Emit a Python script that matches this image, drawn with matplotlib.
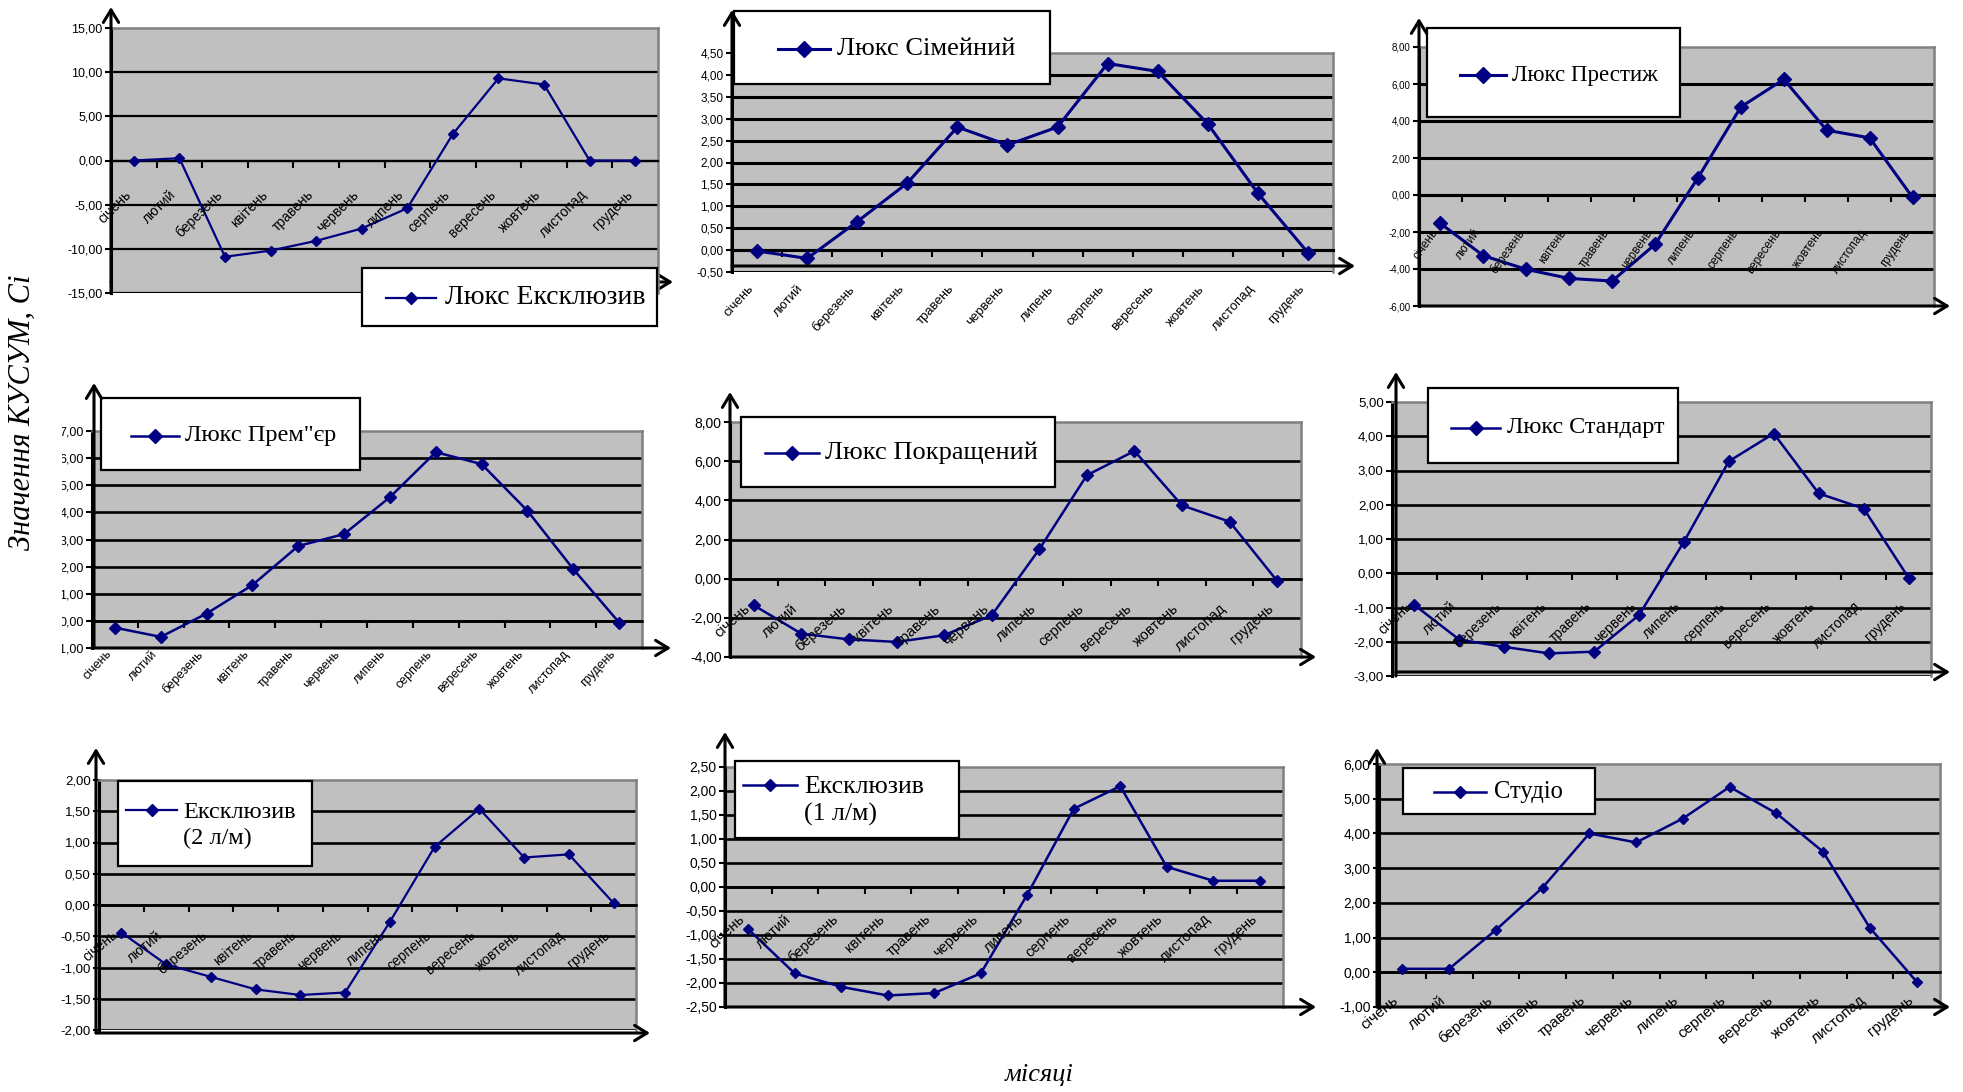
import matplotlib
matplotlib.use('Agg')
import matplotlib.pyplot as plt
import numpy as np
from matplotlib.patches import Rectangle
from matplotlib.transforms import Bbox

plt.rcParams['font.family'] = ['Liberation Sans', 'DejaVu Sans']

W, H = 1963, 1092

months = ['січень', 'лютий', 'березень', 'квітень', 'травень', 'червень',
          'липень', 'серпень', 'вересень', 'жовтень', 'листопад', 'грудень']

# CUSUM values
lux_exclusive = [0.0, 0.26, -10.9, -10.2, -9.1, -7.7, -5.4, 3.0, 9.3, 8.6, 0.0, 0.0]
lux_family = [-0.02, -0.19, 0.65, 1.53, 2.81, 2.40, 2.81, 4.26, 4.08, 2.88, 1.30, -0.06]
lux_prestige = [-1.54, -3.28, -4.02, -4.51, -4.65, -2.67, 0.93, 4.76, 6.25, 3.50, 3.09, -0.13]
lux_premier = [-0.25, -0.59, 0.27, 1.32, 2.76, 3.20, 4.56, 6.22, 5.78, 4.06, 1.91, -0.06]
lux_improved = [-1.36, -2.81, -3.10, -3.23, -2.89, -1.87, 1.50, 5.28, 6.52, 3.74, 2.91, -0.12]
lux_standard = [-0.93, -1.94, -2.15, -2.34, -2.29, -1.22, 0.92, 3.27, 4.08, 2.33, 1.89, -0.13]
exclusive_2 = [-0.44, -0.95, -1.15, -1.35, -1.44, -1.40, -0.27, 0.93, 1.54, 0.76, 0.81, 0.03]
exclusive_1 = [-0.88, -1.80, -2.08, -2.26, -2.21, -1.80, -0.16, 1.63, 2.10, 0.42, 0.13, 0.13]
studio = [0.10, 0.10, 1.22, 2.44, 4.00, 3.74, 4.43, 5.34, 4.58, 3.47, 1.28, -0.27]

names = ['Люкс Ексклюзив', 'Люкс Сімейний', 'Люкс Престиж', 'Люкс Прем"єр',
         'Люкс Покращений', 'Люкс Стандарт', 'Ексклюзив\n(2 л/м)',
         'Ексклюзив\n(1 л/м)', 'Студіо']
series = [lux_exclusive, lux_family, lux_prestige, lux_premier, lux_improved,
          lux_standard, exclusive_2, exclusive_1, studio]
ylims = [(-15, 15, 5), (-0.5, 4.5, 0.5), (-6, 8, 2), (-1, 7, 1), (-4, 8, 2),
         (-3, 5, 1), (-2, 2, 0.5), (-2.5, 2.5, 0.5), (-1, 6, 1)]

# layout in pixels: plot box, label mode, legend box, sample line, text, arrows
layout = [
    dict(box=(111, 28, 658, 293), yfs=9, cfs=10, rot=45, mode='zero', off=27, ms=5.1, lw=1.6, glw=1.6,
         leg=(362, 268, 657, 326), smp=(386, 436, 298), txt=(445, 298, 20),
         yarr=(111, 293, 7), xarr=(111, 673, 282), under=True),
    dict(box=(732, 53, 1333, 272), yfs=8.5, cfs=9.5, rot=48, mode='bottom', off=11, ms=7.4, lw=2.2, glw=2.2,
         leg=(734, 11, 1050, 84), smp=(778, 830, 49), txt=(837, 49, 19),
         yarr=(732, 272, 10), xarr=(732, 1355, 266), under=False),
    dict(box=(1419, 47, 1934, 306), yfs=7, cfs=8.5, rot=55, mode='zero', off=32, ms=7.4, lw=2.2, glw=2.2,
         leg=(1427, 28, 1680, 117), smp=(1460, 1506, 75), txt=(1512, 75, 16.5),
         yarr=(1419, 306, 18), xarr=(1419, 1950, 306), under=False),
    dict(box=(92, 431, 642, 648), yfs=9, cfs=9, rot=47, mode='bottom', off=0, ms=6.5, lw=1.8, glw=1.9,
         leg=(101, 398, 360, 470), smp=(131, 179, 436), txt=(185, 436, 17.6),
         yarr=(94, 648, 383), xarr=(94, 671, 648), under=False),
    dict(box=(730, 422, 1301, 657), yfs=10, cfs=10.5, rot=42, mode='zero', off=23, ms=6.1, lw=1.8, glw=1.9,
         leg=(741, 417, 1055, 487), smp=(765, 819, 453), txt=(825, 453, 19),
         yarr=(730, 657, 392), xarr=(730, 1316, 657), under=False),
    dict(box=(1392, 402, 1931, 676), yfs=9.5, cfs=10, rot=44, mode='zero', off=26, ms=6.1, lw=1.8, glw=1.9,
         leg=(1428, 388, 1678, 463), smp=(1451, 1500, 428), txt=(1507, 428, 17.4),
         yarr=(1396, 676, 372), xarr=(1396, 1950, 672), under=False),
    dict(box=(99, 780, 636, 1030), yfs=9.5, cfs=10, rot=40, mode='zero', off=23, ms=5.3, lw=1.6, glw=1.9,
         leg=(118, 781, 312, 866), smp=(126, 177, 810), txt=(183, 826, 17.5),
         yarr=(96, 1033, 748), xarr=(96, 650, 1033), under=False),
    dict(box=(725, 767, 1283, 1007), yfs=10, cfs=10.5, rot=43, mode='zero', off=25, ms=5.6, lw=1.8, glw=1.9,
         leg=(735, 761, 959, 838), smp=(743, 797, 785), txt=(804, 801, 18.6),
         yarr=(725, 1007, 732), xarr=(725, 1316, 1007), under=False),
    dict(box=(1379, 764, 1940, 1007), yfs=10, cfs=11, rot=40, mode='bottom', off=-14, ms=5.6, lw=1.8, glw=1.9,
         leg=(1403, 768, 1595, 814), smp=(1434, 1486, 792), txt=(1494, 792, 17.7),
         yarr=(1377, 1007, 748), xarr=(1377, 1950, 1007), under=False),
]

navy = '#000080'
grey = '#C0C0C0'

fig = plt.figure(figsize=(W / 100, H / 100), dpi=100)

# pixel-coordinate layers below and above the charts
under = fig.add_axes([0, 0, 1, 1], zorder=-5)
over = fig.add_axes([0, 0, 1, 1], zorder=10)
for a in (under, over):
    a.set_xlim(0, W)
    a.set_ylim(H, 0)
    a.axis('off')
    a.patch.set_alpha(0)


def arrow(a, x0, y0, x1, y1):
    a.annotate('', xy=(x1, y1), xytext=(x0, y0),
               arrowprops=dict(arrowstyle='->,head_length=0.9,head_width=0.55',
                               lw=2.2, color='black', shrinkA=0, shrinkB=0))


for k, (vals, name, (ylo, yhi, st), L) in enumerate(zip(series, names, ylims, layout)):
    x0, y0, x1, y1 = L['box']
    ax = fig.add_axes([x0 / W, 1 - y1 / H, (x1 - x0) / W, (y1 - y0) / H])
    ax.set_facecolor(grey)
    ax.set_xlim(-0.5, 11.5)
    ax.set_ylim(ylo, yhi)
    ticks = np.arange(ylo, yhi + st / 2, st)
    ax.set_yticks(ticks, [f'{t:.2f}'.replace('.', ',') for t in ticks], fontsize=L['yfs'])
    ax.tick_params(axis='y', length=4, width=1.5, pad=2)
    for t in ticks[:-1]:
        ax.axhline(t, color='black', lw=L['glw'], zorder=1)
    for s in ('top', 'right'):
        ax.spines[s].set_color('#808080')
        ax.spines[s].set_linewidth(1.8)
    ax.spines['left'].set_linewidth(2.2)
    ax.spines['bottom'].set_position(('data', 0))
    ax.spines['bottom'].set_linewidth(L['glw'])
    ax.set_xticks(np.arange(0.5, 11, 1))
    ax.tick_params(axis='x', length=5, width=1.5, direction='out', labelbottom=False)

    ax.plot(range(12), vals, color=navy, lw=L['lw'], marker='D', ms=L['ms'],
            mfc=navy, mec=navy, zorder=4, clip_on=False)

    base = 0 if L['mode'] == 'zero' else ylo
    for i, m in enumerate(months):
        ax.annotate(m, xy=(i, base), xytext=(-10, -L['off']), textcoords='offset pixels',
                    rotation=L['rot'], rotation_mode='anchor', ha='right', va='top',
                    fontsize=L['cfs'], annotation_clip=False, zorder=5)

    if k == 3:
        # the left edge of this chart is cut off in the source
        for lbl in ax.get_yticklabels():
            lbl.set_clip_box(Bbox.from_extents(62, 0, W, H))
            lbl.set_clip_on(True)

    # axis arrows
    ax_x = L['yarr']
    arrow(over, ax_x[0], ax_x[1], ax_x[0], ax_x[2])
    xa = L['xarr']
    arrow(under if L['under'] else over, xa[0], xa[2], xa[1], xa[2])

    # legend box
    lx0, ly0, lx1, ly1 = L['leg']
    over.add_patch(Rectangle((lx0, ly0), lx1 - lx0, ly1 - ly0, facecolor='white',
                             edgecolor='black', lw=1.6))
    sx0, sx1, sy = L['smp']
    over.plot([sx0, sx1], [sy, sy], color=navy, lw=L['lw'])
    over.plot([(sx0 + sx1) / 2], [sy], marker='D', ms=L['ms'] * 1.15, color=navy)
    tx, ty, fs = L['txt']
    over.text(tx, ty, name, ha='left', va='center', fontsize=fs,
              family=['Liberation Serif', 'DejaVu Serif'], linespacing=1.3)

over.text(22, 412, 'Значення КУСУМ, Сі', rotation=90, ha='center', va='center',
          fontsize=22, style='italic', family=['Liberation Serif', 'DejaVu Serif'])
over.text(1039, 1075, 'місяці', ha='center', va='center', fontsize=19,
          style='italic', family=['Liberation Serif', 'DejaVu Serif'])

fig.savefig('out.png', dpi=100)
